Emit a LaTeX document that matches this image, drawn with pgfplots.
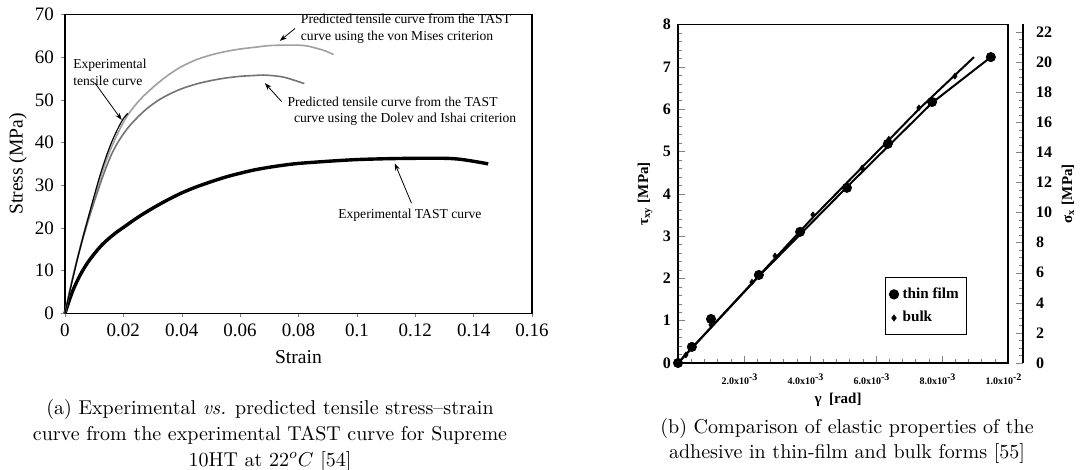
\documentclass[border=0pt]{standalone}
\usepackage{fontspec}
\usepackage{pgfplots}
\pgfplotsset{compat=1.18}
\usetikzlibrary{arrows.meta}
\newfontfamily\timesf{Liberation Serif}
\definecolor{vmgrey}{RGB}{160,160,160}
\definecolor{digrey}{RGB}{115,115,115}
\begin{document}
\begin{tikzpicture}
\useasboundingbox (0,0) rectangle (541pt,235pt);
% ---------------- left chart ----------------
\begin{axis}[
  at={(32.5pt,78.35pt)}, anchor=south west, scale only axis,
  width=233.5pt, height=149.45pt,
  xmin=0, xmax=0.16, ymin=0, ymax=70,
  xtick={0,0.02,0.04,0.06,0.08,0.1,0.12,0.14,0.16},
  xticklabels={0,0.02,0.04,0.06,0.08,0.1,0.12,0.14,0.16},
  ytick={0,10,20,30,40,50,60,70},
  scaled ticks=false,
  tick align=outside, xtick pos=bottom, ytick pos=left,
  major tick length=2pt,
  /pgf/number format/assume math mode=true,
  ticklabel style={font=\timesf\fontsize{9.5}{11}\selectfont},
  xlabel={Strain}, ylabel={Stress (MPa)},
  label style={font=\timesf\fontsize{9.8}{11}\selectfont},
  xlabel style={at={(axis description cs:0.5,-0.147)}, anchor=center},
  ylabel style={at={(axis description cs:-0.1006,0.5)}, anchor=center},
  axis line style={line width=0.6pt},
  clip=false,
]
% Experimental TAST curve
\addplot[black, line width=1.7pt, smooth] coordinates {
(0,0) (0.0025,5.0) (0.005,8.7) (0.0075,11.6) (0.01,13.9) (0.0125,15.9) (0.015,17.5)
(0.0175,18.9) (0.02,20.1) (0.025,22.5) (0.03,24.6) (0.035,26.5) (0.04,28.2)
(0.045,29.6) (0.05,30.8) (0.055,31.9) (0.06,32.8) (0.065,33.6) (0.07,34.2)
(0.075,34.7) (0.08,35.1) (0.09,35.6) (0.1,36.0) (0.11,36.2) (0.12,36.3)
(0.13,36.3) (0.135,36.1) (0.14,35.6) (0.145,35.0)};
% von Mises prediction
\addplot[vmgrey, line width=0.8pt, smooth] coordinates {
(0,0) (0.002,6.5) (0.004,12.3) (0.006,17.6) (0.008,22.5) (0.01,27.0) (0.012,31.5)
(0.014,35.5) (0.016,39.0) (0.018,42.0) (0.02,44.7) (0.022,46.9) (0.025,49.5)
(0.028,51.6) (0.032,54.0) (0.036,56.1) (0.04,57.8) (0.045,59.4) (0.05,60.5)
(0.055,61.3) (0.06,61.9) (0.065,62.3) (0.07,62.7) (0.075,62.8) (0.08,62.8)
(0.083,62.6) (0.086,62.1) (0.089,61.5) (0.092,60.6)};
% Dolev and Ishai prediction
\addplot[digrey, line width=0.8pt, smooth] coordinates {
(0,0) (0.002,6.3) (0.004,12.0) (0.006,17.2) (0.008,21.8) (0.01,26.1) (0.012,30.2)
(0.014,34.0) (0.016,37.3) (0.018,39.9) (0.02,42.0) (0.022,43.8) (0.025,46.0)
(0.028,47.9) (0.032,49.9) (0.036,51.4) (0.04,52.6) (0.045,53.7) (0.05,54.5)
(0.055,55.1) (0.06,55.5) (0.065,55.7) (0.068,55.8) (0.072,55.6) (0.075,55.3)
(0.078,54.7) (0.082,53.8)};
% Experimental tensile curve
\addplot[black, line width=0.6pt, smooth] coordinates {
(0,0) (0.002,6.2) (0.004,12.0) (0.006,17.4) (0.008,22.5) (0.01,27.5) (0.012,32.3)
(0.014,36.5) (0.016,40.1) (0.018,43.1) (0.02,45.6) (0.0215,46.8)};
% annotations
\begin{scope}[font=\timesf\fontsize{6.8}{8.2}\selectfont]
\node[anchor=west, align=left, inner sep=0pt] at (axis cs:0.0027,56.4) {Experimental\\tensile curve};
\draw[-{Stealth[length=3.5pt,width=2.5pt]}, line width=0.4pt] (axis cs:0.0103,53.9) -- (axis cs:0.0194,45.3);
\node[anchor=west, align=left, inner sep=0pt] at (axis cs:0.0807,66.7) {Predicted tensile curve from the TAST\\curve using the von Mises criterion};
\draw[-{Stealth[length=3.5pt,width=2.5pt]}, line width=0.4pt] (axis cs:0.0788,66.7) -- (axis cs:0.0736,63.8);
\node[anchor=west, align=left, inner sep=0pt] at (axis cs:0.0761,47.3) {Predicted tensile curve from the TAST\\\hspace*{3.3pt}curve using the Dolev and Ishai criterion};
\draw[-{Stealth[length=3.5pt,width=2.5pt]}, line width=0.4pt] (axis cs:0.0742,49.6) -- (axis cs:0.0685,53.9);
\node[anchor=west, inner sep=0pt] at (axis cs:0.0935,23.0) {Experimental TAST curve};
\draw[-{Stealth[length=3.5pt,width=2.5pt]}, line width=0.4pt] (axis cs:0.1187,25.8) -- (axis cs:0.113,35.1);
\end{scope}
\end{axis}
% ---------------- right chart, secondary axis ----------------
\begin{axis}[
  at={(339pt,53.5pt)}, anchor=south west, scale only axis,
  width=172.5pt, height=169.25pt,
  xmin=0, xmax=1, ymin=0, ymax=22.5,
  axis x line=none, axis y line*=right,
  y axis line style={-, line width=0.6pt},
  ytick={0,2,4,6,8,10,12,14,16,18,20,22},
  minor y tick num=3,
  tick align=inside, major tick length=3.5pt, minor tick length=1.8pt,
  /pgf/number format/assume math mode=true,
  yticklabel style={font=\timesf\bfseries\fontsize{8}{9}\selectfont, anchor=west, xshift=3pt},
  ylabel={σ\textsubscript{x} [MPa]},
  ylabel style={font=\timesf\bfseries\fontsize{7.5}{8}\selectfont, at={(axis description cs:1.13,0.5)}, anchor=center},
]
\addplot[draw=none] coordinates {(0,0)};
\end{axis}
% ---------------- right chart, main axis ----------------
\begin{axis}[
  at={(339pt,53.5pt)}, anchor=south west, scale only axis,
  width=165pt, height=169.25pt,
  xmin=0, xmax=0.01, ymin=0, ymax=8,
  xtick={0.002,0.004,0.006,0.008,0.01},
  xticklabels={2.0x10\textsuperscript{-3},4.0x10\textsuperscript{-3},6.0x10\textsuperscript{-3},8.0x10\textsuperscript{-3},1.0x10\textsuperscript{-2}},
  minor xtick={0.0004,0.0008,0.0012,0.0016,0.0024,0.0028,0.0032,0.0036,0.0044,0.0048,0.0052,0.0056,0.0064,0.0068,0.0072,0.0076,0.0084,0.0088,0.0092,0.0096},
  ytick={0,1,2,3,4,5,6,7,8},
  minor y tick num=4,
  scaled ticks=false,
  tick align=inside, xtick pos=bottom, ytick pos=left,
  major tick length=3.5pt, minor tick length=1.8pt,
  /pgf/number format/assume math mode=true,
  yticklabel style={font=\timesf\bfseries\fontsize{8}{9}\selectfont},
  xticklabel style={font=\timesf\bfseries\fontsize{5}{6}\selectfont, yshift=-2pt, xshift=-2pt},
  xlabel={γ \ [rad]}, ylabel={τ\textsubscript{xy} [MPa]},
  label style={font=\timesf\bfseries\fontsize{7.5}{8}\selectfont},
  xlabel style={at={(axis description cs:0.485,-0.109)}, anchor=center},
  ylabel style={at={(axis description cs:-0.1,0.5)}, anchor=center},
  axis line style={line width=0.6pt},
  legend style={at={(0.627,0.254)}, anchor=north west, draw=black, line width=0.5pt,
    font=\timesf\bfseries\fontsize{7.6}{8}\selectfont, inner xsep=2pt, inner ysep=3pt, row sep=1pt,
    legend cell align=left},
  legend image code/.code={\draw plot coordinates {(0.08cm,0cm)};},
  clip=false,
]
% fitted lines
\addplot[black, line width=1pt, forget plot] coordinates {
(0,0) (0.00245,2.05) (0.00512,4.16) (0.0077,6.15) (0.00948,7.23)};
\addplot[black, line width=1pt, forget plot] coordinates {
(0,0) (0.0041,3.45) (0.0064,5.28) (0.0073,6.0) (0.00897,7.23)};
% thin film
\addplot[only marks, mark=*, mark size=2.3pt, black] coordinates {
(0,0) (0.00042,0.38) (0.001,1.04) (0.00245,2.08) (0.0037,3.10) (0.00512,4.14)
(0.00636,5.18) (0.0077,6.17) (0.00948,7.23)};
\addlegendentry{thin film}
% bulk
\addplot[only marks, mark=diamond*, mark size=1.4pt, black] coordinates {
(0.00024,0.19) (0.001,0.90) (0.00224,1.91) (0.00294,2.53) (0.00409,3.50)
(0.00558,4.61) (0.00639,5.29) (0.0073,6.03) (0.00839,6.78)};
\addlegendentry{bulk}
\end{axis}
% ---------------- captions ----------------
\node[align=center, font=\fontsize{10}{12.8}\selectfont] at (135pt,17.2pt)
  {(a) Experimental \textit{vs.} predicted tensile stress--strain\\curve from the experimental TAST curve for Supreme\\10HT at $22^oC$ [54]};
\node[align=center, font=\fontsize{10}{12.8}\selectfont] at (423.5pt,14.5pt)
  {(b) Comparison of elastic properties of the\\adhesive in thin-film and bulk forms [55]};
\end{tikzpicture}
\end{document}
